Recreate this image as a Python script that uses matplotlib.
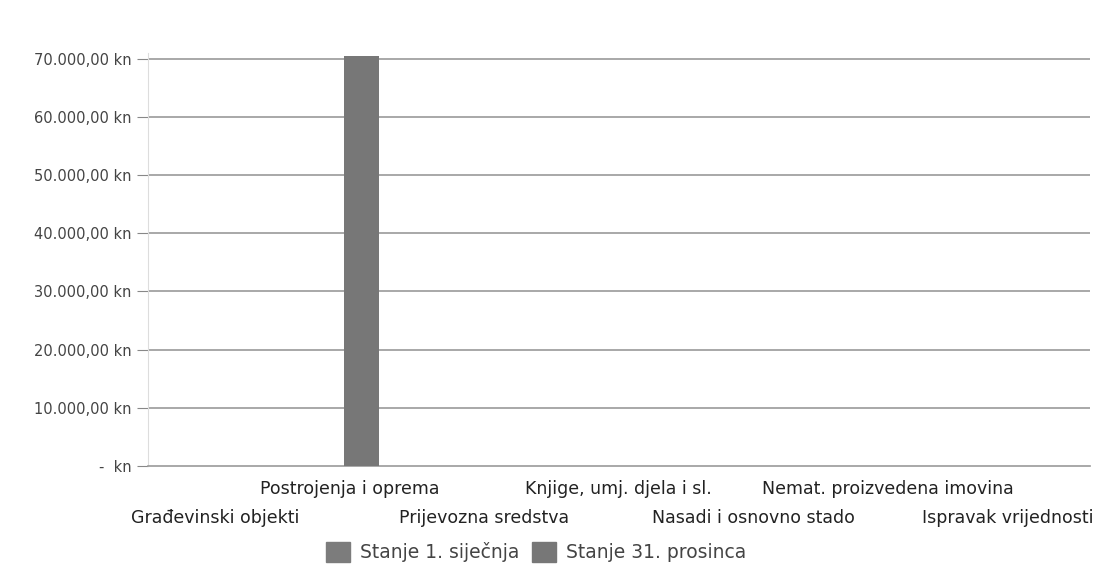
import matplotlib.pyplot as plt
import matplotlib
import numpy as np
from matplotlib.patches import Patch
matplotlib.rcParams.update({'font.size': 10, 'font.family': 'DejaVu Sans'})

# Data
categories = ['Građevinski objekti', 'Postrojenja i oprema', 'Prijevozna sredstva',
              'Knjige, umj. djela i sl.', 'Nasadi i osnovno stado',
              'Nemat. proizvedena imovina', 'Ispravak vrijednosti']
stanje_1_sijecnja = [0, 0, 0, 0, 0, 0, 0]
stanje_31_prosinca = [0, 70500, 0, 0, 0, 0, 0]
yticks = [0, 10000, 20000, 30000, 40000, 50000, 60000, 70000]
ytick_labels = ['-  kn', '10.000,00 kn', '20.000,00 kn', '30.000,00 kn',
                '40.000,00 kn', '50.000,00 kn', '60.000,00 kn', '70.000,00 kn']

fig = plt.figure(figsize=(11.05, 5.71), dpi=100)
ax = fig.add_axes([0.134, 0.184, 0.852, 0.723])

x = np.arange(len(categories))
w = 0.26
off = -0.04
ax.bar(x - w / 2 + off, stanje_1_sijecnja, width=w, color='#7c7c7c', zorder=3)
ax.bar(x + w / 2 + off, stanje_31_prosinca, width=w, color='#777777', zorder=3)

ax.set_xlim(-0.5, len(categories) - 0.5)
ax.set_ylim(0, 71000)
ax.set_yticks(yticks)
ax.set_yticklabels(ytick_labels, color='#444444', fontsize=10.5)
ax.tick_params(axis='y', length=8, color='#888888', pad=4)
ax.set_xticks([])
for yv in yticks[1:]:
    ax.axhline(yv, color='#999999', lw=1.2, zorder=1)

for s in ['top', 'right']:
    ax.spines[s].set_visible(False)
ax.spines['left'].set_color('#dddddd')
ax.spines['bottom'].set_color('#999999')
ax.spines['bottom'].set_linewidth(1.2)

# alternating category labels, last one pulled in to stay inside the image
for i, c in enumerate(categories):
    yoff = -0.055 if i % 2 == 1 else -0.125
    xpos = i if i < len(categories) - 1 else i - 0.11
    ax.text(xpos, yoff, c, transform=ax.get_xaxis_transform(), ha='center',
            va='center', fontsize=12.5, color='#222222')

handles = [Patch(color='#7c7c7c', label='Stanje 1. siječnja'),
           Patch(color='#777777', label='Stanje 31. prosinca')]
fig.legend(handles=handles, loc='center', bbox_to_anchor=(0.485, 0.033), ncol=2,
           frameon=False, handlelength=1.3, handleheight=1.3, columnspacing=0.7,
           handletextpad=0.5, fontsize=13.5, labelcolor='#444444')

fig.savefig('out.png')
